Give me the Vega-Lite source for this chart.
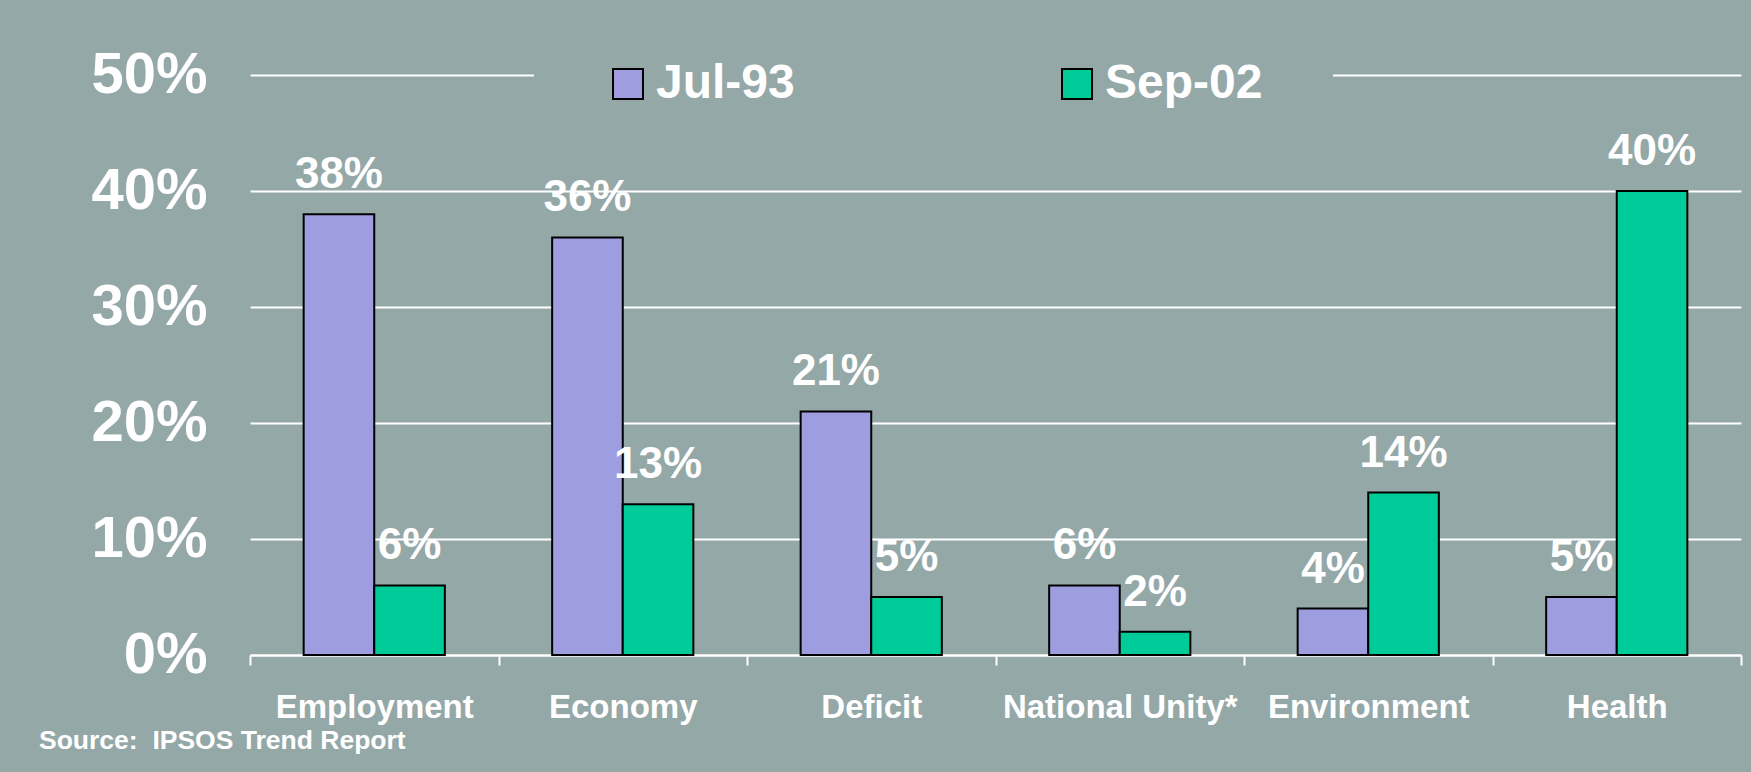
{
  "$schema": "https://vega.github.io/schema/vega-lite/v6.json",
  "width": 1491,
  "height": 580,
  "autosize": {"type": "none"},
  "padding": {"left": 250, "top": 75, "right": 10, "bottom": 117},
  "background": "#95a8a8",
  "data": {
    "values": [
      {"issue": "Employment", "period": "Jul-93", "share": 0.38},
      {"issue": "Employment", "period": "Sep-02", "share": 0.06},
      {"issue": "Economy", "period": "Jul-93", "share": 0.36},
      {"issue": "Economy", "period": "Sep-02", "share": 0.13},
      {"issue": "Deficit", "period": "Jul-93", "share": 0.21},
      {"issue": "Deficit", "period": "Sep-02", "share": 0.05},
      {"issue": "National Unity*", "period": "Jul-93", "share": 0.06},
      {"issue": "National Unity*", "period": "Sep-02", "share": 0.02},
      {"issue": "Environment", "period": "Jul-93", "share": 0.04},
      {"issue": "Environment", "period": "Sep-02", "share": 0.14},
      {"issue": "Health", "period": "Jul-93", "share": 0.05},
      {"issue": "Health", "period": "Sep-02", "share": 0.40}
    ]
  },
  "title": {
    "text": "Source:\u00a0 IPSOS Trend Report",
    "orient": "bottom",
    "anchor": "start",
    "frame": "group",
    "dx": -211,
    "offset": 4,
    "font": "Liberation Sans",
    "fontSize": 26.5,
    "fontWeight": "bold",
    "color": "white"
  },
  "encoding": {
    "x": {
      "field": "issue",
      "type": "nominal",
      "sort": ["Employment", "Economy", "Deficit", "National Unity*", "Environment", "Health"],
      "scale": {"paddingInner": 0, "paddingOuter": 0},
      "axis": {
        "title": null,
        "labelAngle": 0,
        "grid": false,
        "domainColor": "white",
        "domainWidth": 2,
        "tickColor": "white",
        "tickWidth": 2,
        "tickSize": 10,
        "tickBand": "extent",
        "labelPadding": 26,
        "labelFont": "Liberation Sans",
        "labelFontSize": 33,
        "labelFontWeight": "bold",
        "labelColor": "white",
        "labelLimit": 0
      }
    },
    "xOffset": {
      "field": "period",
      "type": "nominal",
      "sort": ["Jul-93", "Sep-02"],
      "scale": {"paddingInner": 0, "paddingOuter": 0.76}
    },
    "y": {
      "field": "share",
      "type": "quantitative",
      "scale": {"domain": [0, 0.5]},
      "axis": {
        "title": null,
        "values": [0, 0.1, 0.2, 0.3, 0.4, 0.5],
        "format": ".0%",
        "domain": false,
        "ticks": false,
        "labelPadding": 43,
        "labelFont": "Liberation Sans",
        "labelFontSize": 58,
        "labelFontWeight": "bold",
        "labelColor": "white",
        "gridColor": "white",
        "gridWidth": 2,
        "gridOpacity": 1
      }
    }
  },
  "layer": [
    {
      "mark": {"type": "bar", "stroke": "black", "strokeWidth": 2, "opacity": 1},
      "encoding": {
        "color": {
          "field": "period",
          "type": "nominal",
          "scale": {"domain": ["Jul-93", "Sep-02"], "range": ["#9d9de0", "#00cc99"]},
          "legend": {
            "title": null,
            "orient": "none",
            "legendX": 284,
            "legendY": -85,
            "direction": "horizontal",
            "symbolType": "square",
            "symbolSize": 900,
            "symbolStrokeColor": "black",
            "symbolStrokeWidth": 2,
            "symbolOpacity": 1,
            "labelFont": "Liberation Sans",
            "labelFontSize": 48,
            "labelFontWeight": "bold",
            "labelColor": "white",
            "labelOffset": 4,
            "labelLimit": 0,
            "columnPadding": 258,
            "padding": 70,
            "fillColor": "#95a8a8"
          }
        }
      }
    },
    {
      "mark": {
        "type": "text",
        "baseline": "alphabetic",
        "dy": -26,
        "font": "Liberation Sans",
        "fontSize": 44,
        "fontWeight": "bold",
        "color": "white"
      },
      "encoding": {
        "text": {"field": "share", "type": "quantitative", "format": ".0%"}
      }
    }
  ],
  "config": {"view": {"stroke": null}}
}
